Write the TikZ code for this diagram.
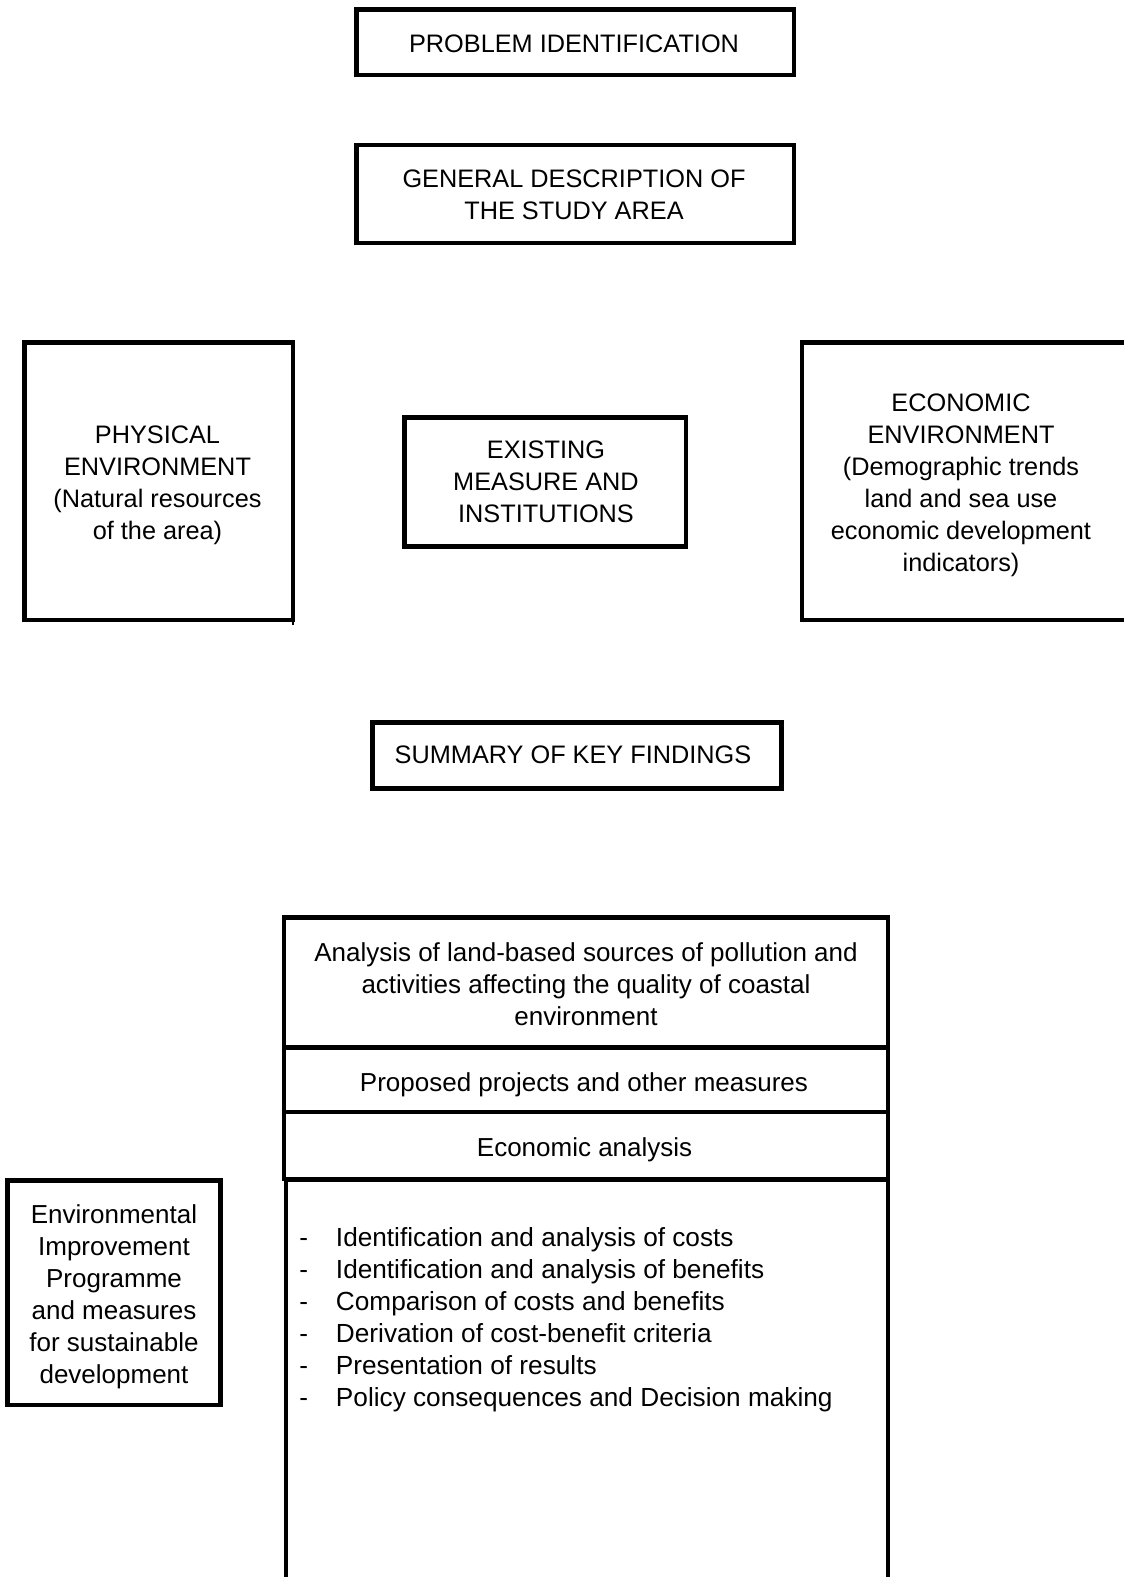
\documentclass[tikz,border=0pt]{standalone}
\usepackage{fontspec}
\setmainfont{Liberation Sans}
\newcommand\diagfont{\fontsize{25.3}{32}\selectfont}
\newcommand\lowfont{\fontsize{26}{32}\selectfont}
\newcommand\listfont{\fontsize{26.2}{32}\selectfont}
\newcommand\boxtext[1]{\begin{tabular}[t]{@{}c@{}}#1\end{tabular}}
\begin{document}
\begin{tikzpicture}[x=1pt,y=-1pt,
  frame/.style={draw=black, line width=4.5pt, rectangle, inner sep=0pt, outer sep=0pt},
  txt/.style={inner sep=0pt, outer sep=0pt, font=\diagfont, text=black},
  lowtxt/.style={txt, font=\lowfont},
  edge/.style={draw=black, line width=4.5pt}]
\useasboundingbox (0,0) rectangle (1124,1577);
\clip (0,0) rectangle (1124,1577);
\fill[white] (0,0) rectangle (1124,1577);

% top boxes
\node[frame, minimum width=437.5pt, minimum height=65.5pt] (prob) at (575.25,42.25) {};
\node[txt] (probt) at (574,45.8) {\boxtext{PROBLEM IDENTIFICATION}};

\node[frame, minimum width=437.5pt, minimum height=98pt] (gen) at (575.25,194) {};
\node[txt] (gent) at (574,197.1) {\boxtext{GENERAL DESCRIPTION OF\\THE STUDY AREA}};

% middle row
\node[frame, minimum width=268.5pt, minimum height=277.5pt] (phys) at (158.75,481.25) {};
\node[txt] (physt) at (157.5,484.6) {\boxtext{PHYSICAL\\ENVIRONMENT\\(Natural resources\\of the area)}};
\draw[edge, line width=2.5pt] (phys.south east) -- ++(0,5);

\node[frame, minimum width=281.5pt, minimum height=129pt] (exist) at (545.25,482) {};
\node[txt] (existt) at (546,484.2) {\boxtext{EXISTING\\MEASURE AND\\INSTITUTIONS}};

\node[frame, minimum width=333.2pt, minimum height=277.5pt] (econ) at (968.4,481.25) {};
\node[txt] (econt) at (961,484.6) {\boxtext{ECONOMIC\\ENVIRONMENT\\(Demographic trends\\land and sea use\\economic development\\indicators)}};

% summary
\node[frame, minimum width=409pt, minimum height=66pt] (summ) at (577,755.5) {};
\node[txt] (summt) at (573,756.6) {\boxtext{SUMMARY OF KEY FINDINGS}};

% big stacked box
\node[frame, minimum width=604pt, minimum height=130pt] (anal) at (586,982.5) {};
\node[lowtxt] (analt) at (586,986.6) {\boxtext{Analysis of land-based sources of pollution and\\activities affecting the quality of coastal\\environment}};

\node[frame, minimum width=604pt, minimum height=64.4pt] (prop) at (586,1079.8) {};
\node[lowtxt] (propt) at (584,1084.6) {\boxtext{Proposed projects and other measures}};

\node[frame, minimum width=604pt, minimum height=67pt] (econa) at (586,1145.5) {};
\node[lowtxt] (econat) at (584.6,1149.6) {\boxtext{Economic analysis}};

\coordinate (lowTL) at (286,1180);
\coordinate (lowTR) at (888,1180);
\coordinate (lowBL) at (286,1590);
\coordinate (lowBR) at (888,1590);
\draw[edge, line join=miter] (lowBL) -- (lowTL) -- (lowTR) -- (lowBR);

\node[txt, font=\listfont, anchor=base west] (list) at (299.4,1246.5) {\begin{tabular}[t]{@{}l@{}}
\makebox[36.6pt][l]{-}Identification and analysis of costs\\
\makebox[36.6pt][l]{-}Identification and analysis of benefits\\
\makebox[36.6pt][l]{-}Comparison of costs and benefits\\
\makebox[36.6pt][l]{-}Derivation of cost-benefit criteria\\
\makebox[36.6pt][l]{-}Presentation of results\\
\makebox[36.6pt][l]{-}Policy consequences and Decision making
\end{tabular}};

% left box
\node[frame, minimum width=213pt, minimum height=224.5pt] (envb) at (114,1292.75) {};
\node[lowtxt] (envt) at (114,1297.4) {\boxtext{Environmental\\Improvement\\Programme\\and measures\\for sustainable\\development}};
\end{tikzpicture}
\end{document}
